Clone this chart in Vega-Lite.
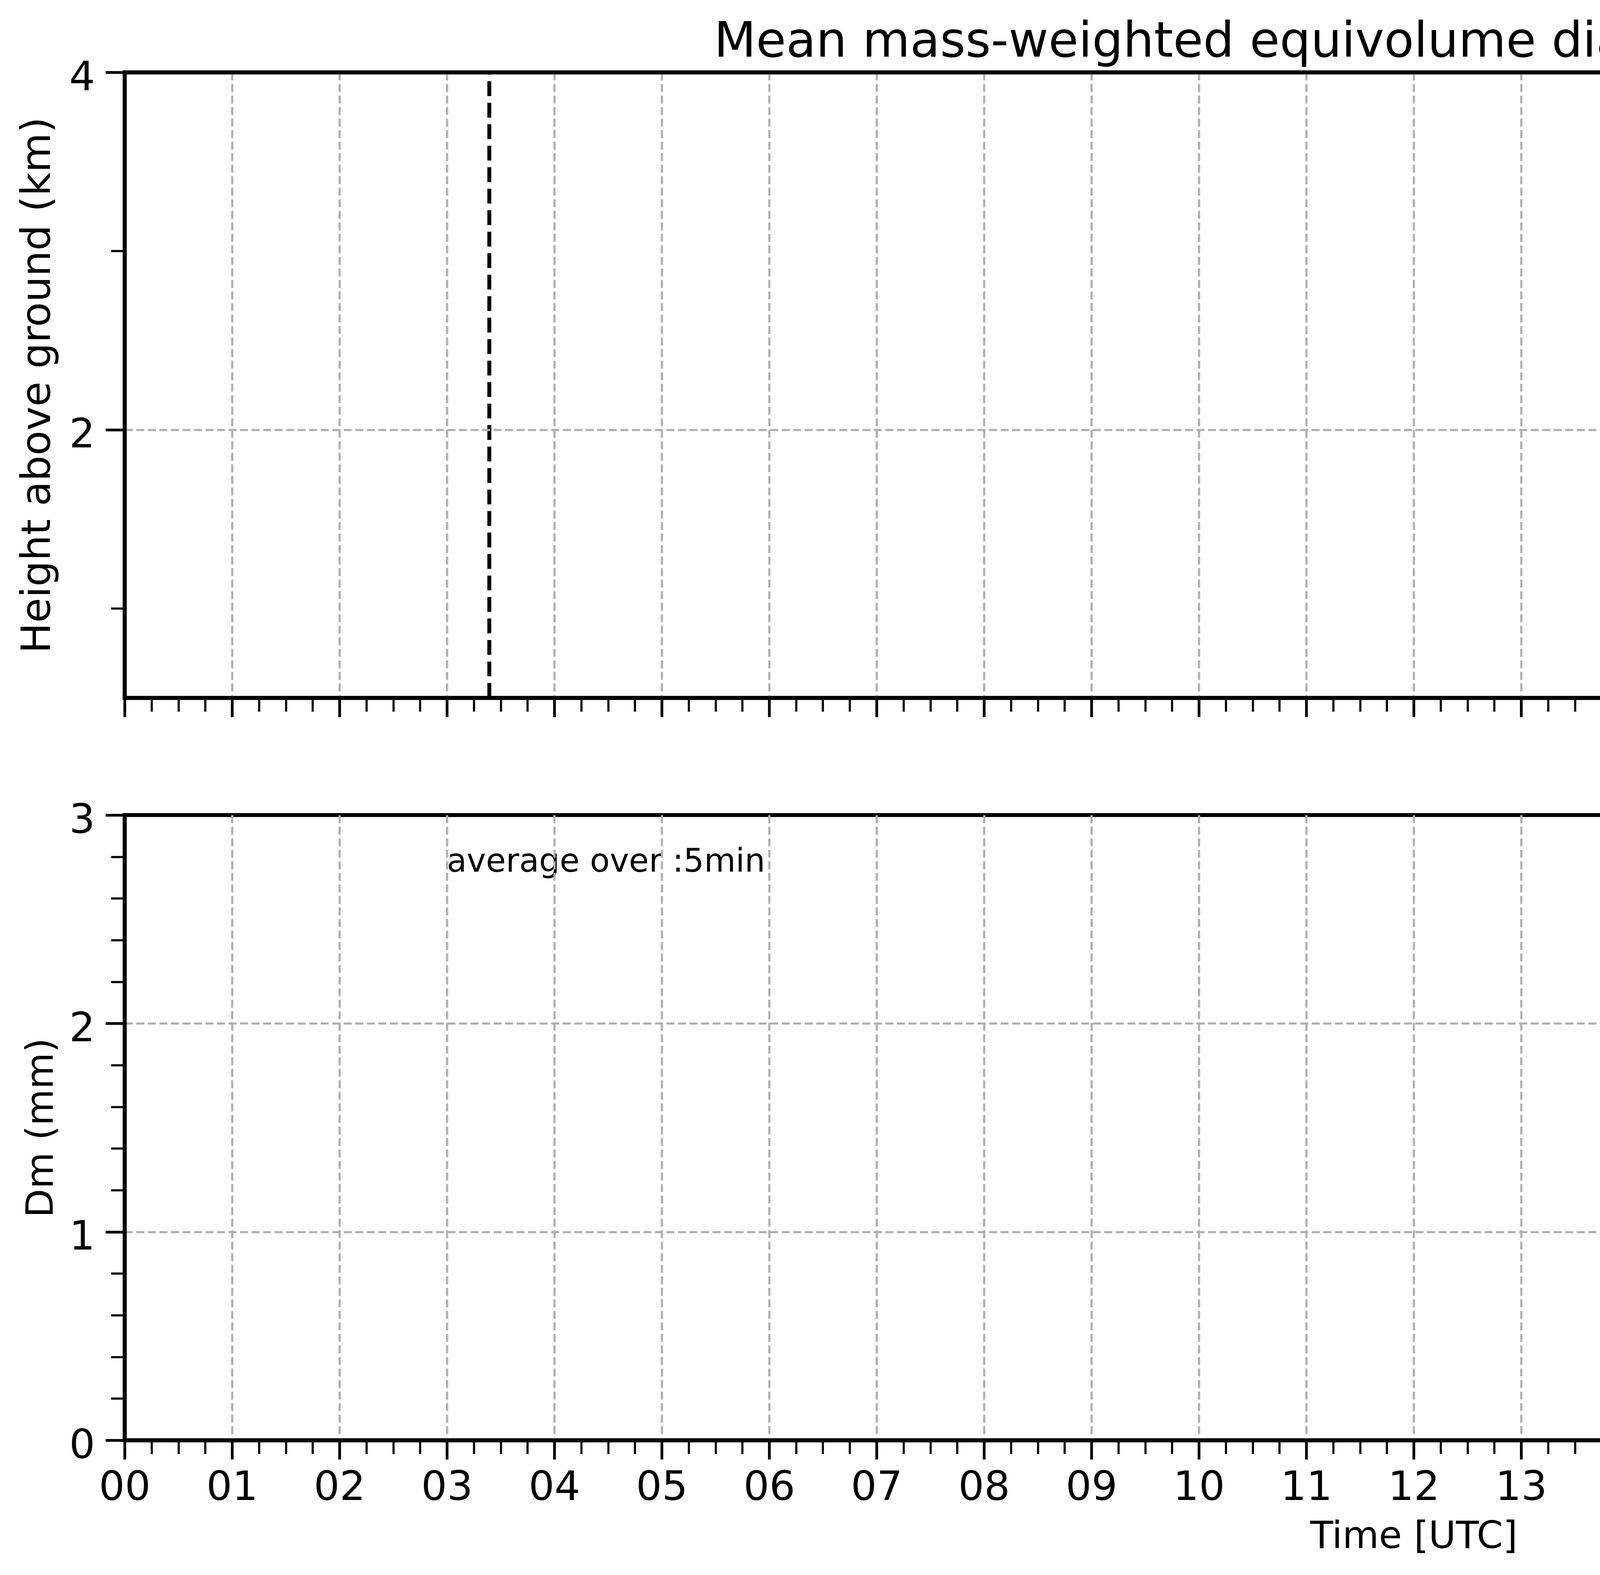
{
  "$schema": "https://vega.github.io/schema/vega-lite/v6.json",
  "background": "white",
  "autosize": {"type": "pad"},
  "padding": {"left": 39, "top": 40, "right": 0, "bottom": 0},
  "config": {
    "font": "DejaVu Sans",
    "view": {"stroke": "black", "strokeWidth": 10},
    "axis": {
      "domainColor": "black", "domainWidth": 10, "tickColor": "black", "labelColor": "black", "titleColor": "black",
      "labelFont": "DejaVu Sans", "titleFont": "DejaVu Sans", "titleFontWeight": "normal",
      "gridColor": "#b0b0b0", "gridWidth": 5.6, "gridDash": [20.6, 8.9],
      "labelFlush": false, "labelOverlap": false, "labelBound": false
    }
  },
  "datasets": {
    "dm_cells": [
      {"time":17.5273,"height":3.041,"dm":0.66},{"time":17.5345,"height":3.041,"dm":0.57},
      {"time":17.5273,"height":3.005,"dm":0.56},{"time":17.5345,"height":3.005,"dm":0.50},{"time":17.5418,"height":3.005,"dm":0.44},{"time":17.5491,"height":3.005,"dm":0.51},{"time":17.5564,"height":3.005,"dm":0.42},{"time":17.5636,"height":3.005,"dm":0.35},{"time":17.5709,"height":3.005,"dm":0.57},{"time":17.5782,"height":3.005,"dm":0.55},
      {"time":17.5273,"height":2.969,"dm":0.55},{"time":17.5345,"height":2.969,"dm":0.43},{"time":17.5418,"height":2.969,"dm":0.49},{"time":17.5491,"height":2.969,"dm":0.41},{"time":17.5564,"height":2.969,"dm":0.56},{"time":17.5636,"height":2.969,"dm":0.42},{"time":17.5709,"height":2.969,"dm":0.58},{"time":17.5782,"height":2.969,"dm":0.56},
      {"time":17.5273,"height":2.933,"dm":0.50},{"time":17.5345,"height":2.933,"dm":0.36},{"time":17.5418,"height":2.933,"dm":0.42},{"time":17.5491,"height":2.933,"dm":0.48},{"time":17.5564,"height":2.933,"dm":0.57},{"time":17.5636,"height":2.933,"dm":0.64},{"time":17.5709,"height":2.933,"dm":0.37},{"time":17.5782,"height":2.933,"dm":0.43},
      {"time":17.5273,"height":2.897,"dm":0.56},{"time":17.5345,"height":2.897,"dm":0.42},{"time":17.5418,"height":2.897,"dm":0.36},{"time":17.5491,"height":2.897,"dm":0.34},{"time":17.5564,"height":2.897,"dm":0.44},{"time":17.5636,"height":2.897,"dm":0.50},{"time":17.5709,"height":2.897,"dm":0.30},{"time":17.5782,"height":2.897,"dm":0.42},
      {"time":17.5273,"height":2.861,"dm":0.51},{"time":17.5345,"height":2.861,"dm":0.49},{"time":17.5418,"height":2.861,"dm":0.42},{"time":17.5491,"height":2.861,"dm":0.56},{"time":17.5564,"height":2.861,"dm":0.50},{"time":17.5636,"height":2.861,"dm":0.29},{"time":17.5709,"height":2.861,"dm":0.57},{"time":17.5782,"height":2.861,"dm":0.50},
      {"time":17.5273,"height":2.825,"dm":0.43},{"time":17.5418,"height":2.825,"dm":0.41},{"time":17.5491,"height":2.825,"dm":0.50},{"time":17.5564,"height":2.825,"dm":0.56},{"time":17.5636,"height":2.825,"dm":0.42},{"time":17.5709,"height":2.825,"dm":0.57},{"time":17.5782,"height":2.825,"dm":0.49},
      {"time":17.5491,"height":2.789,"dm":0.56},{"time":17.5564,"height":2.789,"dm":0.58},{"time":17.5636,"height":2.789,"dm":0.50},{"time":17.5709,"height":2.789,"dm":0.56},{"time":17.5782,"height":2.789,"dm":0.55},
      {"time":17.5491,"height":2.753,"dm":0.50},{"time":17.5564,"height":2.753,"dm":0.56},{"time":17.5636,"height":2.753,"dm":0.57},{"time":17.5709,"height":2.753,"dm":0.55},{"time":17.5782,"height":2.753,"dm":0.56},
      {"time":17.5418,"height":2.717,"dm":0.56},{"time":17.5491,"height":2.717,"dm":0.55},{"time":17.5564,"height":2.717,"dm":0.50},{"time":17.5636,"height":2.717,"dm":0.42},{"time":17.5709,"height":2.717,"dm":0.57},{"time":17.5782,"height":2.717,"dm":0.56},
      {"time":17.5564,"height":2.681,"dm":0.42},{"time":17.5636,"height":2.681,"dm":0.43},{"time":17.5709,"height":2.681,"dm":0.56},{"time":17.5782,"height":2.681,"dm":0.41},
      {"time":17.5564,"height":2.645,"dm":0.43},{"time":17.5636,"height":2.645,"dm":0.55},{"time":17.5782,"height":2.645,"dm":0.42},
      {"time":17.5491,"height":2.609,"dm":0.42},{"time":17.5564,"height":2.609,"dm":0.41},{"time":17.5636,"height":2.609,"dm":0.36},{"time":17.5709,"height":2.609,"dm":0.43},{"time":17.5782,"height":2.609,"dm":0.42},
      {"time":17.5491,"height":2.573,"dm":0.36},{"time":17.5564,"height":2.573,"dm":0.42},{"time":17.5636,"height":2.573,"dm":0.35},{"time":17.5709,"height":2.573,"dm":0.55},{"time":17.5782,"height":2.573,"dm":0.43},
      {"time":17.5636,"height":2.537,"dm":0.36},{"time":17.5709,"height":2.537,"dm":0.42},{"time":17.5782,"height":2.537,"dm":0.41},
      {"time":17.5636,"height":2.501,"dm":0.42},{"time":17.5709,"height":2.501,"dm":0.36},
      {"time":17.6727,"height":3.005,"dm":0.66},{"time":17.6800,"height":3.005,"dm":0.57},{"time":17.6873,"height":3.005,"dm":0.15},{"time":17.6945,"height":3.005,"dm":0.56},{"time":17.7018,"height":3.005,"dm":0.42},{"time":17.7091,"height":3.005,"dm":0.30},{"time":17.7164,"height":3.005,"dm":0.56},{"time":17.7236,"height":3.005,"dm":0.16},
      {"time":17.6727,"height":2.969,"dm":0.31},{"time":17.6800,"height":2.969,"dm":0.56},{"time":17.6873,"height":2.969,"dm":0.66},{"time":17.6945,"height":2.969,"dm":0.76},{"time":17.7018,"height":2.969,"dm":0.65},{"time":17.7091,"height":2.969,"dm":0.42},{"time":17.7164,"height":2.969,"dm":0.57},{"time":17.7236,"height":2.969,"dm":0.50},{"time":17.7309,"height":2.969,"dm":0.51},
      {"time":17.6727,"height":2.933,"dm":0.66},{"time":17.6800,"height":2.933,"dm":0.67},{"time":17.6873,"height":2.933,"dm":0.77},{"time":17.6945,"height":2.933,"dm":0.76},{"time":17.7018,"height":2.933,"dm":0.66},{"time":17.7091,"height":2.933,"dm":0.43},{"time":17.7164,"height":2.933,"dm":0.56},{"time":17.7236,"height":2.933,"dm":0.65},{"time":17.7309,"height":2.933,"dm":0.67},
      {"time":17.6727,"height":2.897,"dm":0.65},{"time":17.6800,"height":2.897,"dm":0.15},{"time":17.6873,"height":2.897,"dm":0.56},{"time":17.6945,"height":2.897,"dm":0.75},{"time":17.7018,"height":2.897,"dm":0.66},{"time":17.7091,"height":2.897,"dm":0.42},{"time":17.7164,"height":2.897,"dm":0.50},{"time":17.7236,"height":2.897,"dm":0.56},{"time":17.7309,"height":2.897,"dm":0.57},
      {"time":17.6727,"height":2.861,"dm":0.14},{"time":17.6800,"height":2.861,"dm":0.42},{"time":17.6873,"height":2.861,"dm":0.16},{"time":17.6945,"height":2.861,"dm":0.30},{"time":17.7018,"height":2.861,"dm":0.56},{"time":17.7091,"height":2.861,"dm":0.66},{"time":17.7164,"height":2.861,"dm":0.57},{"time":17.7236,"height":2.861,"dm":0.56},{"time":17.7309,"height":2.861,"dm":0.55},
      {"time":17.6727,"height":2.825,"dm":0.43},{"time":17.6800,"height":2.825,"dm":0.41},{"time":17.6873,"height":2.825,"dm":0.36},{"time":17.6945,"height":2.825,"dm":0.29},{"time":17.7018,"height":2.825,"dm":0.56},{"time":17.7091,"height":2.825,"dm":0.57},{"time":17.7164,"height":2.825,"dm":0.55},{"time":17.7236,"height":2.825,"dm":0.56},
      {"time":17.6727,"height":2.789,"dm":0.42},{"time":17.6800,"height":2.789,"dm":0.56},{"time":17.6873,"height":2.789,"dm":0.57},{"time":17.6945,"height":2.789,"dm":0.50},{"time":17.7018,"height":2.789,"dm":0.56},{"time":17.7091,"height":2.789,"dm":0.66},{"time":17.7164,"height":2.789,"dm":0.55},{"time":17.7236,"height":2.789,"dm":0.50},{"time":17.7309,"height":2.789,"dm":0.49},
      {"time":17.6727,"height":2.753,"dm":0.42},{"time":17.6800,"height":2.753,"dm":0.57},{"time":17.6873,"height":2.753,"dm":0.56},{"time":17.6945,"height":2.753,"dm":0.43},{"time":17.7018,"height":2.753,"dm":0.55},{"time":17.7091,"height":2.753,"dm":0.65},{"time":17.7164,"height":2.753,"dm":0.56},{"time":17.7236,"height":2.753,"dm":0.50},{"time":17.7309,"height":2.753,"dm":0.42},
      {"time":17.6727,"height":2.717,"dm":0.50},{"time":17.6800,"height":2.717,"dm":0.56},{"time":17.6873,"height":2.717,"dm":0.42},{"time":17.6945,"height":2.717,"dm":0.57},{"time":17.7018,"height":2.717,"dm":0.49},{"time":17.7091,"height":2.717,"dm":0.56},{"time":17.7164,"height":2.717,"dm":0.55},{"time":17.7236,"height":2.717,"dm":0.42},{"time":17.7309,"height":2.717,"dm":0.43},
      {"time":17.6727,"height":2.681,"dm":0.56},{"time":17.6800,"height":2.681,"dm":0.55},{"time":17.6873,"height":2.681,"dm":0.50},{"time":17.6945,"height":2.681,"dm":0.57},{"time":17.7018,"height":2.681,"dm":0.66},{"time":17.7091,"height":2.681,"dm":0.56},{"time":17.7164,"height":2.681,"dm":0.50},{"time":17.7236,"height":2.681,"dm":0.56},{"time":17.7309,"height":2.681,"dm":0.42},
      {"time":17.6727,"height":2.645,"dm":0.42},{"time":17.6800,"height":2.645,"dm":0.43},{"time":17.6873,"height":2.645,"dm":0.41},{"time":17.6945,"height":2.645,"dm":0.56},{"time":17.7018,"height":2.645,"dm":0.42},{"time":17.7091,"height":2.645,"dm":0.55},{"time":17.7164,"height":2.645,"dm":0.57},{"time":17.7236,"height":2.645,"dm":0.42},{"time":17.7309,"height":2.645,"dm":0.43},
      {"time":17.6727,"height":2.609,"dm":0.15},{"time":17.6873,"height":2.609,"dm":0.30},{"time":17.6945,"height":2.609,"dm":0.42},{"time":17.7018,"height":2.609,"dm":0.43},{"time":17.7091,"height":2.609,"dm":0.41},{"time":17.7164,"height":2.609,"dm":0.56},{"time":17.7236,"height":2.609,"dm":0.42},{"time":17.7309,"height":2.609,"dm":0.66},
      {"time":17.6727,"height":2.573,"dm":0.16},{"time":17.6873,"height":2.573,"dm":0.42},{"time":17.6945,"height":2.573,"dm":0.41},{"time":17.7018,"height":2.573,"dm":0.30},{"time":17.7091,"height":2.573,"dm":0.43},{"time":17.7164,"height":2.573,"dm":0.56},{"time":17.7236,"height":2.573,"dm":0.55},{"time":17.7309,"height":2.573,"dm":0.42},
      {"time":17.6727,"height":2.537,"dm":0.56},{"time":17.6800,"height":2.537,"dm":0.57},{"time":17.6945,"height":2.537,"dm":0.55},{"time":17.7018,"height":2.537,"dm":0.56},{"time":17.7091,"height":2.537,"dm":0.42},{"time":17.7164,"height":2.537,"dm":0.57},{"time":17.7236,"height":2.537,"dm":0.30},{"time":17.7309,"height":2.537,"dm":0.42},
      {"time":17.6727,"height":2.501,"dm":0.66},{"time":17.6945,"height":2.501,"dm":0.42},{"time":17.7018,"height":2.501,"dm":0.56},{"time":17.7091,"height":2.501,"dm":0.55},{"time":17.7164,"height":2.501,"dm":0.43},{"time":17.7236,"height":2.501,"dm":0.29},{"time":17.7309,"height":2.501,"dm":0.30},
      {"time":17.6727,"height":2.465,"dm":0.67},{"time":17.6945,"height":2.465,"dm":0.56},{"time":17.7018,"height":2.465,"dm":0.50},{"time":17.7091,"height":2.465,"dm":0.56},{"time":17.7164,"height":2.465,"dm":0.42},{"time":17.7236,"height":2.465,"dm":0.30},{"time":17.7309,"height":2.465,"dm":0.28},
      {"time":17.6800,"height":2.429,"dm":0.30},{"time":17.6873,"height":2.429,"dm":0.42},{"time":17.6945,"height":2.429,"dm":0.43},{"time":17.7164,"height":2.429,"dm":0.42},{"time":17.7236,"height":2.429,"dm":0.41},{"time":17.7309,"height":2.429,"dm":0.30},
      {"time":17.6800,"height":2.393,"dm":0.76},{"time":17.6873,"height":2.393,"dm":0.42},{"time":17.6945,"height":2.393,"dm":0.43},{"time":17.7236,"height":2.393,"dm":0.42},{"time":17.7309,"height":2.393,"dm":0.43},
      {"time":17.6727,"height":2.357,"dm":0.77},{"time":17.6800,"height":2.357,"dm":0.43},{"time":17.6945,"height":2.357,"dm":0.56},{"time":17.7164,"height":2.357,"dm":0.50},{"time":17.7236,"height":2.357,"dm":0.50},{"time":17.7309,"height":2.357,"dm":0.56},
      {"time":17.6800,"height":2.321,"dm":0.76},{"time":17.7164,"height":2.321,"dm":0.56},{"time":17.7236,"height":2.321,"dm":0.57},{"time":17.7309,"height":2.321,"dm":0.42},
      {"time":17.7236,"height":2.285,"dm":0.42},{"time":17.7309,"height":2.285,"dm":0.43},
      {"time":17.7309,"height":2.249,"dm":0.41},
      {"time":18.0291,"height":3.149,"dm":0.67},{"time":18.0364,"height":3.149,"dm":0.56},{"time":18.0436,"height":3.149,"dm":0.42},{"time":18.0509,"height":3.149,"dm":0.57},{"time":18.0582,"height":3.149,"dm":0.42},{"time":18.0655,"height":3.149,"dm":0.16},{"time":18.0727,"height":3.149,"dm":0.50},{"time":18.0800,"height":3.149,"dm":0.56},
      {"time":18.0291,"height":3.113,"dm":0.30},{"time":18.0364,"height":3.113,"dm":0.76},{"time":18.0436,"height":3.113,"dm":0.66},{"time":18.0509,"height":3.113,"dm":0.56},{"time":18.0582,"height":3.113,"dm":0.43},{"time":18.0655,"height":3.113,"dm":0.56},{"time":18.0727,"height":3.113,"dm":0.50},{"time":18.0800,"height":3.113,"dm":0.57},
      {"time":18.0291,"height":3.077,"dm":0.50},{"time":18.0364,"height":3.077,"dm":0.42},{"time":18.0436,"height":3.077,"dm":0.15},{"time":18.0509,"height":3.077,"dm":0.56},{"time":18.0582,"height":3.077,"dm":0.16},{"time":18.0655,"height":3.077,"dm":0.30},{"time":18.0727,"height":3.077,"dm":0.42},
      {"time":18.0291,"height":3.041,"dm":0.56},{"time":18.0364,"height":3.041,"dm":0.43},{"time":18.0436,"height":3.041,"dm":0.57},{"time":18.0509,"height":3.041,"dm":0.55},{"time":18.0582,"height":3.041,"dm":0.42},{"time":18.0655,"height":3.041,"dm":0.50},{"time":18.0727,"height":3.041,"dm":0.41},
      {"time":18.0291,"height":3.005,"dm":0.30},{"time":18.0364,"height":3.005,"dm":0.42},{"time":18.0436,"height":3.005,"dm":0.50},{"time":18.0509,"height":3.005,"dm":0.43},{"time":18.0582,"height":3.005,"dm":0.56},{"time":18.0655,"height":3.005,"dm":0.29},{"time":18.0727,"height":3.005,"dm":0.42},
      {"time":18.0291,"height":2.969,"dm":0.15},{"time":18.0364,"height":2.969,"dm":0.16},{"time":18.0436,"height":2.969,"dm":0.50},{"time":18.0509,"height":2.969,"dm":0.56},{"time":18.0582,"height":2.969,"dm":0.57},{"time":18.0655,"height":2.969,"dm":0.42},{"time":18.0727,"height":2.969,"dm":0.30},
      {"time":18.0291,"height":2.933,"dm":0.31},{"time":18.0364,"height":2.933,"dm":0.50},{"time":18.0436,"height":2.933,"dm":0.56},{"time":18.0509,"height":2.933,"dm":0.57},{"time":18.0582,"height":2.933,"dm":0.49},{"time":18.0655,"height":2.933,"dm":0.42},{"time":18.0727,"height":2.933,"dm":0.50},{"time":18.0800,"height":2.933,"dm":0.56},
      {"time":18.0436,"height":2.897,"dm":0.66},{"time":18.0509,"height":2.897,"dm":0.65},{"time":18.0582,"height":2.897,"dm":0.56},{"time":18.0727,"height":2.897,"dm":0.66},{"time":18.0800,"height":2.897,"dm":0.67},
      {"time":18.0291,"height":2.861,"dm":0.75},{"time":18.0582,"height":2.861,"dm":0.30},{"time":18.0655,"height":2.861,"dm":0.42},{"time":18.0727,"height":2.861,"dm":0.66},
      {"time":18.0291,"height":2.825,"dm":0.31},{"time":18.0364,"height":2.825,"dm":0.50},{"time":18.0582,"height":2.825,"dm":0.42},{"time":18.0655,"height":2.825,"dm":0.50},{"time":18.0727,"height":2.825,"dm":0.65},
      {"time":18.0291,"height":2.789,"dm":0.50},{"time":18.0436,"height":2.789,"dm":0.30},{"time":18.0509,"height":2.789,"dm":0.56},{"time":18.0582,"height":2.789,"dm":0.76},{"time":18.0655,"height":2.789,"dm":0.50},
      {"time":18.0436,"height":2.753,"dm":0.15},{"time":18.0509,"height":2.753,"dm":0.56},{"time":18.0582,"height":2.753,"dm":0.66},{"time":18.0655,"height":2.753,"dm":0.56},
      {"time":18.0436,"height":2.717,"dm":0.30},{"time":18.0509,"height":2.717,"dm":0.50},{"time":18.0582,"height":2.717,"dm":0.56},{"time":18.0655,"height":2.717,"dm":0.42},{"time":18.0727,"height":2.717,"dm":0.43},
      {"time":18.0436,"height":2.681,"dm":0.56},{"time":18.0509,"height":2.681,"dm":0.57},{"time":18.0582,"height":2.681,"dm":0.55},{"time":18.0655,"height":2.681,"dm":0.50},{"time":18.0727,"height":2.681,"dm":0.42},
      {"time":18.0509,"height":2.645,"dm":0.30},{"time":18.0582,"height":2.645,"dm":0.42},{"time":18.0655,"height":2.645,"dm":0.56},{"time":18.0727,"height":2.645,"dm":0.43},
      {"time":18.0509,"height":2.609,"dm":0.66},{"time":18.0582,"height":2.609,"dm":0.56},{"time":18.0655,"height":2.609,"dm":0.66},{"time":18.0727,"height":2.609,"dm":0.42},
      {"time":18.0727,"height":2.573,"dm":0.30},{"time":18.0800,"height":2.573,"dm":0.56},
      {"time":18.0727,"height":2.537,"dm":0.76},{"time":18.0800,"height":2.537,"dm":0.56},
      {"time":18.1745,"height":3.149,"dm":0.56},{"time":18.1745,"height":3.113,"dm":0.50},{"time":18.1745,"height":3.077,"dm":0.66},{"time":18.1745,"height":3.041,"dm":0.67},{"time":18.1745,"height":3.005,"dm":0.50},{"time":18.1745,"height":2.969,"dm":0.66},{"time":18.1745,"height":2.933,"dm":0.76},
      {"time":18.1818,"height":3.041,"dm":0.66},{"time":18.1818,"height":2.969,"dm":0.77},
      {"time":18.3673,"height":3.041,"dm":0.76},
      {"time":18.3709,"height":3.077,"dm":0.66},{"time":18.3709,"height":3.041,"dm":0.50},{"time":18.3709,"height":3.005,"dm":0.42},
      {"time":18.3782,"height":3.149,"dm":0.56},{"time":18.3782,"height":3.113,"dm":0.57},{"time":18.3782,"height":3.077,"dm":0.66},{"time":18.3782,"height":3.041,"dm":0.50},{"time":18.3782,"height":3.005,"dm":0.42},{"time":18.3782,"height":2.969,"dm":0.56},{"time":18.3782,"height":2.933,"dm":0.42}
    ],
    "sun_events": [
      {"time": 3.395, "event": "sunrise"},
      {"time": 18.94, "event": "sunset"}
    ],
    "no_data_period": [
      {"start": 21.375, "end": 24}
    ],
    "annotations": [
      {"time": 3.0, "dm": 2.728, "label": "average over :5min"}
    ]
  },
  "columns": 2,
  "spacing": {"row": 300, "column": 72},
  "bounds": "flush",
  "concat": [
    {
      "width": 6600,
      "height": 1601,
      "title": {
        "text": "Mean mass-weighted equivolume diameter on 20260524",
        "font": "DejaVu Sans", "fontSize": 125, "fontWeight": "normal", "color": "black",
        "anchor": "middle", "frame": "group", "baseline": "alphabetic", "offset": -123
      },
      "layer": [
        {
          "data": {"name": "no_data_period"},
          "mark": {"type": "rect", "color": "#d9d9d9"},
          "encoding": {
            "x": {
              "field": "start", "type": "quantitative",
              "scale": {"domain": [0, 24], "nice": false, "zero": false},
              "axis": {"orient": "top", "domain": true, "ticks": false, "labels": false, "grid": false, "title": null, "zindex": 1}
            },
            "x2": {"field": "end"},
            "y": {
              "datum": 0.5, "type": "quantitative",
              "scale": {"domain": [0.5, 4], "nice": false, "zero": false},
              "axis": {"orient": "right", "domain": true, "ticks": false, "labels": false, "grid": false, "title": null, "zindex": 1}
            },
            "y2": {"datum": 4}
          }
        },
        {
          "data": {"name": "dm_cells"},
          "mark": {"type": "rect"},
          "encoding": {
            "x": {
              "field": "time", "type": "quantitative",
              "bin": {"binned": true, "step": 0.0078},
              "scale": {"domain": [0, 24], "nice": false, "zero": false},
              "axis": {
                "orient": "bottom", "title": null, "labels": false, "grid": false, "domain": false,
                "tickSize": 35, "tickWidth": 5.5,
                "values": [0,0.25,0.5,0.75,1,1.25,1.5,1.75,2,2.25,2.5,2.75,3,3.25,3.5,3.75,4,4.25,4.5,4.75,5,5.25,5.5,5.75,6,6.25,6.5,6.75,7,7.25,7.5,7.75,8,8.25,8.5,8.75,9,9.25,9.5,9.75,10,10.25,10.5,10.75,11,11.25,11.5,11.75,12,12.25,12.5,12.75,13,13.25,13.5,13.75,14,14.25,14.5,14.75,15,15.25,15.5,15.75,16,16.25,16.5,16.75,17,17.25,17.5,17.75,18,18.25,18.5,18.75,19,19.25,19.5,19.75,20,20.25,20.5,20.75,21,21.25,21.5,21.75,22,22.25,22.5,22.75,23,23.25,23.5,23.75,24]
              }
            },
            "y": {
              "field": "height", "type": "quantitative",
              "bin": {"binned": true, "step": 0.0365},
              "scale": {"domain": [0.5, 4], "nice": false, "zero": false},
              "axis": {"orient": "left", "title": null, "labels": false, "grid": false, "domain": false, "tickSize": 35, "tickWidth": 5.5, "values": [1, 3]}
            },
            "color": {
              "field": "dm", "type": "quantitative",
              "scale": {
                "domain": [0, 0.22, 0.25, 0.68, 0.70, 0.75, 1.28, 1.30, 1.32, 1.78, 1.82, 2.0],
                "range": ["#000080", "#0000ff", "#0000ff", "#00dbff", "#00e5f7", "#15ffe2", "#eeff08", "#f7f500", "#ffec00", "#ff1300", "#e80000", "#800000"],
                "interpolate": "rgb"
              },
              "legend": null
            }
          }
        },
        {
          "data": {"name": "sun_events"},
          "mark": {"type": "rule", "color": "black", "strokeWidth": 10, "strokeDash": [38, 17]},
          "encoding": {
            "x": {
              "field": "time", "type": "quantitative",
              "scale": {"domain": [0, 24], "nice": false, "zero": false},
              "axis": {
                "orient": "bottom", "title": null, "labels": false, "domain": true, "grid": true,
                "gridOpacity": {"condition": {"test": "datum.value === 0", "value": 0}, "value": 1},
                "tickSize": 49, "tickWidth": 7, "zindex": 1,
                "values": [0,1,2,3,4,5,6,7,8,9,10,11,12,13,14,15,16,17,18,19,20,21,22,23]
              }
            },
            "y": {
              "datum": 0.5, "type": "quantitative",
              "scale": {"domain": [0.5, 4], "nice": false, "zero": false},
              "axis": {
                "orient": "left", "values": [2, 4], "format": "d",
                "labelFontSize": 104, "labelPadding": 27, "labelOffset": 14,
                "tickSize": 49, "tickWidth": 7, "domain": true, "grid": true,
                "gridOpacity": {"condition": {"test": "datum.value === 4", "value": 0}, "value": 1},
                "title": "Height above ground (km)", "titleFontSize": 104, "titlePadding": 27, "zindex": 1
              }
            },
            "y2": {"datum": 4}
          }
        }
      ],
      "resolve": {"axis": {"x": "independent", "y": "independent"}}
    },
    {
      "width": 111,
      "height": 1601,
      "view": {"stroke": null},
      "data": {"values": [{"low": 0, "high": 2}]},
      "mark": {
        "type": "rect", "stroke": "black", "strokeWidth": 6,
        "fill": {
          "gradient": "linear", "x1": 0, "y1": 1, "x2": 0, "y2": 0,
          "stops": [
            {"offset": 0, "color": "#000080"},
            {"offset": 0.11, "color": "#0000ff"},
            {"offset": 0.125, "color": "#0000ff"},
            {"offset": 0.34, "color": "#00dbff"},
            {"offset": 0.35, "color": "#00e5f7"},
            {"offset": 0.375, "color": "#15ffe2"},
            {"offset": 0.64, "color": "#eeff08"},
            {"offset": 0.65, "color": "#f7f500"},
            {"offset": 0.66, "color": "#ffec00"},
            {"offset": 0.89, "color": "#ff1300"},
            {"offset": 0.91, "color": "#e80000"},
            {"offset": 1, "color": "#800000"}
          ]
        }
      },
      "encoding": {
        "y": {
          "field": "low", "type": "quantitative",
          "scale": {"domain": [0, 2], "nice": false, "zero": false},
          "axis": {
            "orient": "right", "values": [0, 0.4, 0.8, 1.2, 1.6, 2.0], "format": ".1f",
            "domain": false, "grid": false, "tickSize": 23, "tickWidth": 5,
            "labelFontSize": 80, "labelPadding": 25, "labelOffset": 12,
            "title": "Dm (mm)", "titleFontSize": 80, "titleAngle": 270,
            "titleBaseline": "top", "titleAlign": "center", "titlePadding": 30
          }
        },
        "y2": {"field": "high"}
      }
    },
    {
      "width": 6600,
      "height": 1600,
      "layer": [
        {
          "data": {"name": "annotations"},
          "mark": {"type": "text", "align": "left", "baseline": "alphabetic", "fontSize": 83, "font": "DejaVu Sans", "color": "black"},
          "encoding": {
            "x": {
              "field": "time", "type": "quantitative",
              "scale": {"domain": [0, 24], "nice": false, "zero": false},
              "axis": {
                "orient": "bottom", "format": "02d",
                "values": [0,1,2,3,4,5,6,7,8,9,10,11,12,13,14,15,16,17,18,19,20,21,22,23],
                "labelFontSize": 104, "labelPadding": 21,
                "tickSize": 49, "tickWidth": 7, "domain": true, "grid": true,
                "gridOpacity": {"condition": {"test": "datum.value === 0", "value": 0}, "value": 1},
                "title": "Time [UTC]", "titleFontSize": 96, "titlePadding": 26, "zindex": 1
              }
            },
            "y": {
              "field": "dm", "type": "quantitative",
              "scale": {"domain": [0, 3], "nice": false, "zero": false},
              "axis": {
                "orient": "left", "values": [0, 1, 2, 3], "format": "d",
                "labelFontSize": 104, "labelPadding": 27, "labelOffset": 14,
                "tickSize": 49, "tickWidth": 7, "domain": true, "grid": true,
                "gridOpacity": {"condition": {"test": "datum.value === 0 || datum.value === 3", "value": 0}, "value": 1},
                "title": "Dm (mm)", "titleFontSize": 96, "titlePadding": 22, "zindex": 1
              }
            },
            "text": {"field": "label"}
          }
        },
        {
          "data": {"values": []},
          "mark": {"type": "point"},
          "encoding": {
            "x": {
              "field": "time", "type": "quantitative",
              "scale": {"domain": [0, 24], "nice": false, "zero": false},
              "axis": {
                "orient": "bottom", "title": null, "labels": false, "grid": false, "domain": false,
                "tickSize": 35, "tickWidth": 5.5,
                "values": [0,0.25,0.5,0.75,1,1.25,1.5,1.75,2,2.25,2.5,2.75,3,3.25,3.5,3.75,4,4.25,4.5,4.75,5,5.25,5.5,5.75,6,6.25,6.5,6.75,7,7.25,7.5,7.75,8,8.25,8.5,8.75,9,9.25,9.5,9.75,10,10.25,10.5,10.75,11,11.25,11.5,11.75,12,12.25,12.5,12.75,13,13.25,13.5,13.75,14,14.25,14.5,14.75,15,15.25,15.5,15.75,16,16.25,16.5,16.75,17,17.25,17.5,17.75,18,18.25,18.5,18.75,19,19.25,19.5,19.75,20,20.25,20.5,20.75,21,21.25,21.5,21.75,22,22.25,22.5,22.75,23,23.25,23.5,23.75,24]
              }
            },
            "y": {
              "field": "dm", "type": "quantitative",
              "scale": {"domain": [0, 3], "nice": false, "zero": false},
              "axis": {
                "orient": "left", "title": null, "labels": false, "grid": false, "domain": false,
                "tickSize": 35, "tickWidth": 5.5,
                "values": [0,0.2,0.4,0.6,0.8,1,1.2,1.4,1.6,1.8,2,2.2,2.4,2.6,2.8,3]
              }
            }
          }
        }
      ],
      "resolve": {"axis": {"x": "independent", "y": "independent"}}
    }
  ]
}
